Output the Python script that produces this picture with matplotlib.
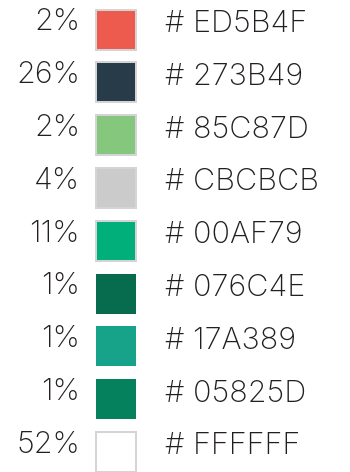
import matplotlib.pyplot as plt
from matplotlib.patches import Rectangle

# share of each colour, top to bottom
percents = [2, 26, 2, 4, 11, 1, 1, 1, 52]
hex_codes = ['ED5B4F', '273B49', '85C87D', 'CBCBCB', '00AF79',
             '076C4E', '17A389', '05825D', 'FFFFFF']
# swatches drawn with a light grey frame
framed = [True, True, True, True, True, False, False, False, True]

W, H = 350, 472
fig = plt.figure(figsize=(W / 100, H / 100), dpi=100)
ax = fig.add_axes([0, 0, 1, 1])
ax.set_xlim(0, W)
ax.set_ylim(H, 0)
ax.axis('off')

font = ['Inter', 'DejaVu Sans']
txt_color = '#231f20'
row0, step = 29.5, 52.8

for i, (p, code, fr) in enumerate(zip(percents, hex_codes, framed)):
    cy = row0 + i * step
    if fr:
        ax.add_patch(Rectangle((95, cy - 21), 42, 42, facecolor='#d4d4d6', edgecolor='none'))
        ax.add_patch(Rectangle((97, cy - 19), 38, 38, facecolor='#' + code, edgecolor='none'))
    else:
        ax.add_patch(Rectangle((96, cy - 20), 40, 40, facecolor='#' + code, edgecolor='none'))
    ax.text(80, cy - 7, f'{p}%', ha='right', va='center', fontsize=22,
            family=font, weight='light', color=txt_color)
    ax.text(165, cy - 5.5, f'# {code}', ha='left', va='center', fontsize=22,
            family=font, weight='light', color=txt_color)

fig.savefig('out.png', dpi=100)
